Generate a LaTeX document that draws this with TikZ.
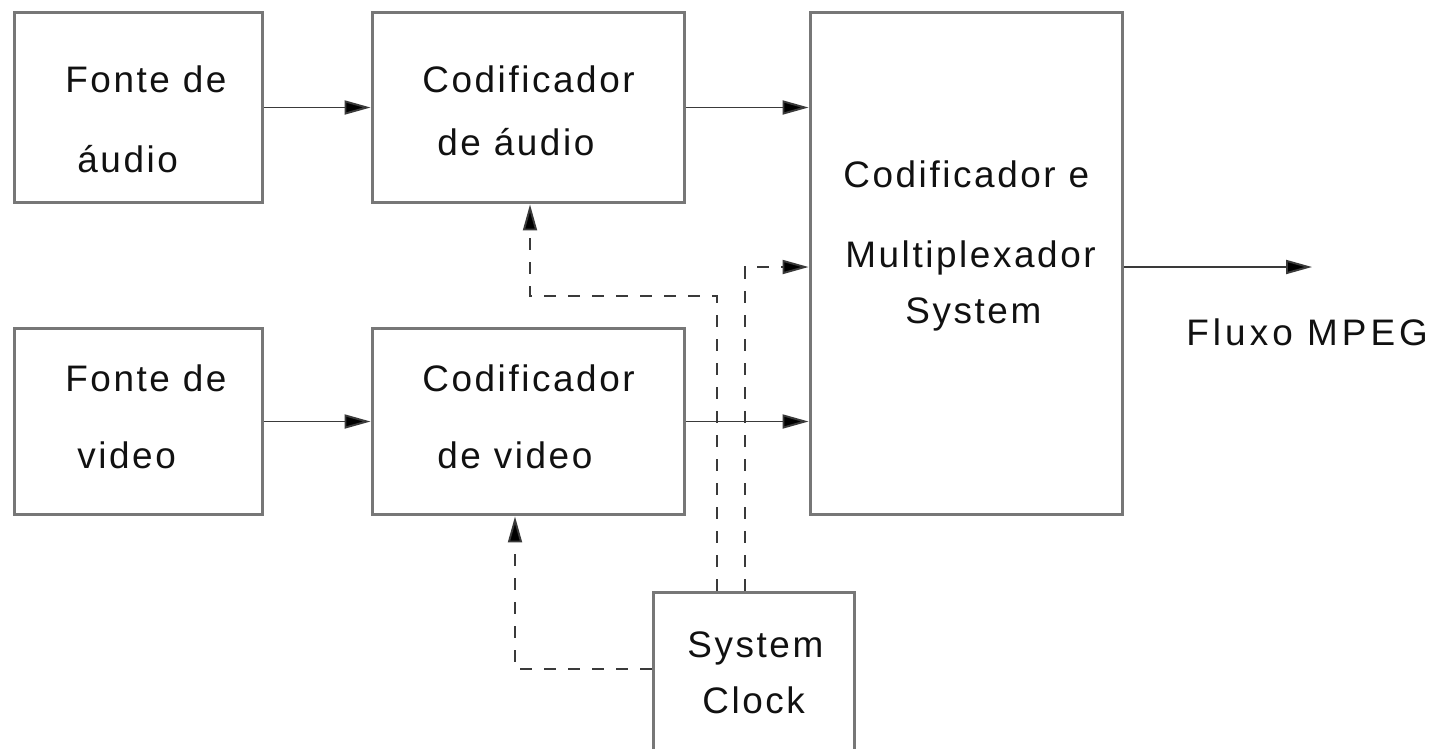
\documentclass[tikz,border=0pt]{standalone}
\usepackage{fontspec}
\setmainfont{Liberation Sans}[LetterSpace=7]
\newfontfamily\widefont{Liberation Sans}[LetterSpace=11]
\usetikzlibrary{arrows.meta}
\definecolor{boxgray}{HTML}{777777}
\definecolor{linegray}{HTML}{3A3A3A}
\definecolor{textgray}{HTML}{111111}
\tikzset{
  box/.style={draw=boxgray, line width=1.7pt, inner sep=0pt, rectangle},
  lbl/.style={anchor=base west, inner sep=0pt, text=textgray, font=\fontsize{21}{25}\selectfont},
  conn/.style={draw=linegray, line width=1.1pt, -{Triangle[length=0.52cm,width=0.28cm,fill=black]}},
  dconn/.style={conn, dash pattern=on 0.24cm off 0.24cm},
}
\begin{document}
\begin{tikzpicture}[x=0.02cm, y=-0.02cm]
\clip (0,0) rectangle (1437,748);
\fill[white] (0,0) rectangle (1437,748);
% boxes
\node[box, minimum width=4.98cm, minimum height=3.82cm] (fa) at (138.5,107.5) {};
\node[box, minimum width=6.26cm, minimum height=3.82cm] (ca) at (528.5,107.5) {};
\node[box, minimum width=6.26cm, minimum height=10.06cm] (mux) at (966.5,263.5) {};
\node[box, minimum width=4.98cm, minimum height=3.74cm] (fv) at (138.5,421.5) {};
\node[box, minimum width=6.26cm, minimum height=3.74cm] (cv) at (528.5,421.5) {};
\node[box, minimum width=4.04cm, minimum height=4.4cm] (clk) at (754,702) {};
% texts
\node[lbl] (t1) at (65,92) {Fonte de};
\node[lbl] (t2) at (77,172) {áudio};
\node[lbl] (t3) at (422,92) {Codificador};
\node[lbl] (t4) at (437,155) {de áudio};
\node[lbl] (t5) at (843,187) {Codificador e};
\node[lbl] (t6) at (845,267) {Multiplexador};
\node[lbl] (t7) at (905,323) {System};
\node[lbl] (t8) at (65,391) {Fonte de};
\node[lbl] (t9) at (77,468) {video};
\node[lbl] (t10) at (422,391) {Codificador};
\node[lbl] (t11) at (437,468) {de video};
\node[lbl] (t12) at (687,657) {System};
\node[lbl] (t13) at (702,713) {Clock};
\node[lbl, font=\fontsize{21}{25}\widefont] (t14) at (1186,345) {Fluxo MPEG};
% coordinates
\coordinate (out) at (1312,267);
\coordinate (d1) at (717,296);
\coordinate (d2) at (530,296);
\coordinate (d3) at (745,267);
\coordinate (d4) at (515,669);
% solid connectors
\draw[conn] (fa.east) -- (ca.west);
\draw[conn] (fv.east) -- (cv.west);
\draw[conn] (ca.east) -- (ca.east -| mux.west);
\draw[conn] (cv.east) -- (cv.east -| mux.west);
\draw[conn] (mux.east |- out) -- (out);
% dashed connectors
\draw[dconn] (clk.north -| d1) -- (d1) -- (d2) -- (d2 |- ca.south);
\draw[dconn] (clk.north -| d3) -- (d3) -- (d3 -| mux.west);
\draw[dconn] (clk.west |- d4) -- (d4) -- (d4 |- cv.south);
\end{tikzpicture}
\end{document}
